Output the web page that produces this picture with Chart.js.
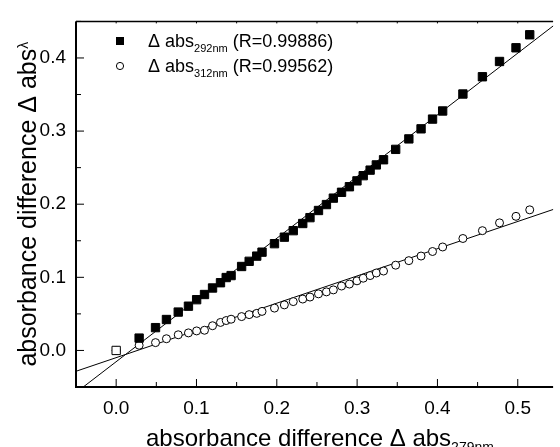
<!DOCTYPE html>
<html>
<head>
<meta charset="utf-8">
<script src="https://cdn.jsdelivr.net/npm/chart.js@4/dist/chart.umd.min.js"></script>
<style>
  html, body { margin: 0; padding: 0; background: #fff; overflow: hidden; }
  #wrap { width: 560px; height: 447px; }
</style>
</head>
<body>
<div id="wrap"><canvas id="chart" width="560" height="447"></canvas></div>
<script>
// absorbance difference at 279 nm, shared x for both series
const abs279 = [0, 0.0286, 0.049, 0.0626, 0.0773, 0.09, 0.1002, 0.11, 0.12, 0.1299, 0.137, 0.1431,
  0.1562, 0.1656, 0.175, 0.1816, 0.1971, 0.2094, 0.2205, 0.2323, 0.2413, 0.2519, 0.2618, 0.2704,
  0.2806, 0.2904, 0.2998, 0.3076, 0.3162, 0.3239, 0.3329, 0.348, 0.3644, 0.3796, 0.3939, 0.4065,
  0.4317, 0.456, 0.4773, 0.4978, 0.5149];
// absorbance difference at 292 nm
const abs292 = [0, 0.0169, 0.0312, 0.0423, 0.0525, 0.0605, 0.0694, 0.0765, 0.0854, 0.0926, 0.0997, 0.1024,
  0.1148, 0.1219, 0.129, 0.1344, 0.146, 0.1549, 0.1638, 0.1736, 0.1816, 0.1914, 0.1995, 0.2083,
  0.2163, 0.2239, 0.2319, 0.239, 0.2466, 0.2537, 0.2608, 0.275, 0.2893, 0.3031, 0.3164, 0.3275,
  0.3507, 0.3743, 0.3952, 0.4139, 0.4317];
// absorbance difference at 312 nm
const abs312 = [0, 0.0071, 0.0107, 0.016, 0.0214, 0.024, 0.0267, 0.0276, 0.0338, 0.0383, 0.0409, 0.0427,
  0.0463, 0.049, 0.0507, 0.0534, 0.0579, 0.0623, 0.0668, 0.0703, 0.073, 0.0774, 0.0801, 0.0828,
  0.0881, 0.0908, 0.0952, 0.0988, 0.1024, 0.1059, 0.1086, 0.1166, 0.1228, 0.1291, 0.1353, 0.1415,
  0.1531, 0.1638, 0.1745, 0.1834, 0.1923];

// linear fits (end points)
const fitX = [-0.05, 0.55];
const fit292 = [-0.0576, 0.4488];
const fit312 = [-0.0285, 0.195];

const xTicks = [0, 0.1, 0.2, 0.3, 0.4, 0.5];
const yTicks = [0, 0.1, 0.2, 0.3, 0.4];
const xMinor = [-0.05, 0.05, 0.15, 0.25, 0.35, 0.45];
const yMinor = [-0.05, 0.05, 0.15, 0.25, 0.35, 0.45];
const legendNames = ['292nm', '312nm'];
const legendR = ['(R=0.99886)', '(R=0.99562)'];

const FONT = '"Liberation Sans", Arial, sans-serif';
const pts = (xs, ys) => xs.map((v, i) => ({ x: v, y: ys[i] }));

// draw text made of pieces with their own size and baseline shift
function rich(ctx, x, y, parts, measureOnly) {
  let w = 0;
  parts.forEach(p => {
    ctx.font = p.size + 'px ' + FONT;
    if (!measureOnly) ctx.fillText(p.t, x + w, y + (p.dy || 0));
    w += ctx.measureText(p.t).width;
  });
  return w;
}

const decor = {
  id: 'decor',
  afterDraw(chart) {
    const { ctx, chartArea: a, scales: { x, y } } = chart;
    ctx.save();
    ctx.strokeStyle = '#000';
    ctx.fillStyle = '#000';

    // frame
    ctx.lineWidth = 2;
    ctx.beginPath();
    ctx.moveTo(a.left, a.top);
    ctx.lineTo(a.left, a.bottom);
    ctx.lineTo(a.right, a.bottom);
    ctx.stroke();
    ctx.lineWidth = 1.5;
    ctx.beginPath();
    ctx.moveTo(a.left, a.top);
    ctx.lineTo(a.right, a.top);
    ctx.stroke();

    // inward ticks
    ctx.lineWidth = 1;
    ctx.beginPath();
    xTicks.forEach(v => {
      const px = x.getPixelForValue(v);
      ctx.moveTo(px, a.bottom); ctx.lineTo(px, a.bottom - 8);
      ctx.moveTo(px, a.top); ctx.lineTo(px, a.top + 2);
    });
    xMinor.forEach(v => {
      const px = x.getPixelForValue(v);
      ctx.moveTo(px, a.bottom); ctx.lineTo(px, a.bottom - 5);
      ctx.moveTo(px, a.top); ctx.lineTo(px, a.top + 2);
    });
    yTicks.forEach(v => {
      const py = y.getPixelForValue(v);
      ctx.moveTo(a.left, py); ctx.lineTo(a.left + 8, py);
    });
    yMinor.forEach(v => {
      const py = y.getPixelForValue(v);
      ctx.moveTo(a.left, py); ctx.lineTo(a.left + 5, py);
    });
    ctx.stroke();

    // legend
    ctx.textBaseline = 'alphabetic';
    ctx.textAlign = 'left';
    const lx = 120, tx = 148;
    [0, 1].forEach(i => {
      const base = 46.5 + i * 25;
      const my = base - 5.5;
      ctx.beginPath();
      if (i === 0) {
        ctx.rect(lx - 4, my - 4, 8, 8);
        ctx.fill();
      } else {
        ctx.arc(lx, my, 3.6, 0, Math.PI * 2);
        ctx.fillStyle = '#fff';
        ctx.fill();
        ctx.fillStyle = '#000';
        ctx.stroke();
      }
      rich(ctx, tx, base, [
        { t: '\u0394 abs', size: 18 },
        { t: legendNames[i], size: 11, dy: 5.5 },
        { t: ' ' + legendR[i], size: 18 }
      ]);
    });

    // x title
    const xParts = [
      { t: 'absorbance difference \u0394 abs', size: 24 },
      { t: '279nm', size: 14, dy: 6 }
    ];
    const xw = rich(ctx, 0, 0, xParts, true);
    rich(ctx, x.getPixelForValue(0.25) - xw / 2 + 3, 446, xParts);

    // y title
    const yParts = [
      { t: 'absorbance difference \u0394 abs', size: 25 },
      { t: '\u03bb', size: 14, dy: -8 }
    ];
    const yw = rich(ctx, 0, 0, yParts, true);
    ctx.translate(36, y.getPixelForValue(0.2));
    ctx.rotate(-Math.PI / 2);
    rich(ctx, -yw / 2, 0, yParts);
    ctx.restore();
  }
};

new Chart(document.getElementById('chart'), {
  type: 'scatter',
  data: {
    datasets: [
      {
        label: 'abs292',
        data: pts(abs279, abs292),
        pointStyle: 'rect',
        pointRadius: 5.9,
        pointBorderWidth: 1,
        pointBorderColor: '#000',
        pointBackgroundColor: abs292.map((v, i) => (i === 0 ? '#fff' : '#000'))
      },
      {
        label: 'abs312',
        data: pts(abs279, abs312),
        pointStyle: 'circle',
        pointRadius: 4,
        pointBorderWidth: 1,
        pointBorderColor: '#000',
        pointBackgroundColor: '#fff'
      },
      {
        label: 'fit292',
        data: pts(fitX, fit292),
        showLine: true,
        borderColor: '#000',
        borderWidth: 1,
        pointRadius: 0
      },
      {
        label: 'fit312',
        data: pts(fitX, fit312),
        showLine: true,
        borderColor: '#000',
        borderWidth: 1,
        pointRadius: 0
      }
    ]
  },
  options: {
    responsive: false,
    animation: false,
    events: [],
    layout: { padding: { top: 12, right: 0, left: 0, bottom: 0 } },
    plugins: { legend: { display: false }, tooltip: { enabled: false } },
    scales: {
      x: {
        type: 'linear',
        min: -0.05,
        max: 0.544,
        grid: { display: false, drawTicks: false },
        border: { display: false },
        afterBuildTicks: s => { s.ticks = xTicks.map(v => ({ value: v })); },
        afterFit: s => { s.height = 60; },
        ticks: {
          padding: 10,
          color: '#000',
          font: { family: FONT, size: 19 },
          callback: v => v.toFixed(1)
        }
      },
      y: {
        type: 'linear',
        min: -0.05,
        max: 0.45,
        grid: { display: false, drawTicks: false },
        border: { display: false },
        afterBuildTicks: s => { s.ticks = yTicks.map(v => ({ value: v })); },
        afterFit: s => { s.width = 76; },
        ticks: {
          padding: 10,
          color: '#000',
          font: { family: FONT, size: 19 },
          callback: v => v.toFixed(1)
        }
      }
    }
  },
  plugins: [decor]
});
</script>
</body>
</html>
